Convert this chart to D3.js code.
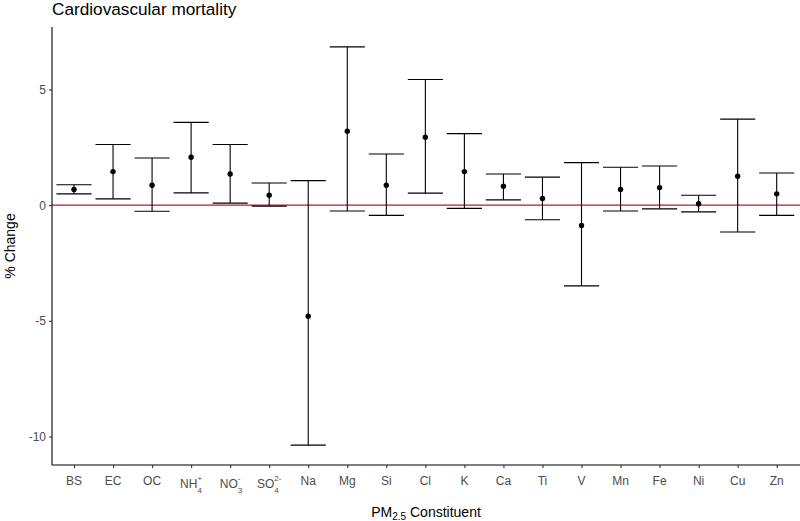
<!DOCTYPE html>
<html><head><meta charset="utf-8">
<script src="https://cdn.jsdelivr.net/npm/d3@7"></script>
<style>body{margin:0;background:#fff}text{font-family:"Liberation Sans",Arial,sans-serif}</style>
</head><body><svg id="c" width="800" height="521"></svg>
<script>
const categories = ["BS","EC","OC","NH4","NO3","SO4","Na","Mg","Si","Cl","K","Ca","Ti","V","Mn","Fe","Ni","Cu","Zn"];
const estimate = [0.68,1.45,0.86,2.07,1.35,0.43,-4.80,3.20,0.86,2.94,1.45,0.82,0.29,-0.88,0.68,0.76,0.06,1.25,0.49];
const lower =    [0.49,0.27,-0.26,0.53,0.09,-0.04,-10.37,-0.25,-0.44,0.52,-0.14,0.23,-0.63,-3.49,-0.25,-0.16,-0.29,-1.16,-0.44];
const upper =    [0.88,2.62,2.04,3.58,2.62,0.96,1.06,6.84,2.21,5.43,3.09,1.35,1.21,1.84,1.64,1.69,0.43,3.72,1.39];
const yTicks = [-10,-5,0,5];
// label parts: [main, subscript, superscript]
const labelParts = {NH4:["NH","4","+"],NO3:["NO","3","-"],SO4:["SO","4","2-"]};

const svg = d3.select("#c");
const L=52, T=27, B=465;
const x = d3.scalePoint().domain(categories).range([74,776.7]).padding(0);
const lo = d3.min(lower), hi = d3.max(upper), ex = (hi-lo)*0.05;
const y = d3.scaleLinear().domain([lo-ex, hi+ex]).range([B,T]);
const step = x.step();
const capW = step*0.9;

// zero line
svg.append("line").attr("x1",L).attr("x2",800).attr("y1",y(0)).attr("y2",y(0))
  .attr("stroke","#B71C1C").attr("stroke-width",1.1);

const data = categories.map((c,i)=>({c,e:estimate[i],l:lower[i],u:upper[i]}));
const g = svg.append("g");
data.forEach(d=>{
  const cx = x(d.c);
  g.append("line").attr("x1",cx).attr("x2",cx).attr("y1",y(d.l)).attr("y2",y(d.u)).attr("stroke","#000").attr("stroke-width",1.1);
  [d.l,d.u].forEach(v=>g.append("line").attr("x1",cx-capW/2).attr("x2",cx+capW/2).attr("y1",y(v)).attr("y2",y(v)).attr("stroke","#000").attr("stroke-width",1.1));
  g.append("circle").attr("cx",cx).attr("cy",y(d.e)).attr("r",2.7).attr("fill","#000");
});

// axes
const yAxis = d3.axisLeft(y).tickValues(yTicks).tickSize(3).tickPadding(3).tickFormat(d=>String(d));
const ya = svg.append("g").attr("transform",`translate(${L},0)`).call(yAxis);
ya.select(".domain").attr("d",`M0,${T}V${B}`).attr("stroke","#000").attr("stroke-width",1.1);
ya.selectAll(".tick line").attr("stroke","#333").attr("stroke-width",1.1);
ya.selectAll(".tick text").attr("fill","#4D4D4D").attr("font-size",12).attr("font-family","Liberation Sans, Arial, sans-serif");

const xAxis = d3.axisBottom(x).tickSize(3).tickPadding(3).tickFormat(()=> "");
const xa = svg.append("g").attr("transform",`translate(0,${B})`).call(xAxis);
xa.select(".domain").attr("d",`M${L},0H800`).attr("stroke","#000").attr("stroke-width",1.1);
xa.selectAll(".tick line").attr("stroke","#333").attr("stroke-width",1.1);
xa.selectAll(".tick text").remove();
categories.forEach(c=>{
  const t = svg.append("text").attr("x",x(c)).attr("y",485).attr("text-anchor","middle")
    .attr("fill","#4D4D4D").attr("font-size",12);
  if(labelParts[c]){
    const [m,sub,sup]=labelParts[c];
    t.attr("y",488).attr("text-anchor","start");
    t.append("tspan").text(m);
    const s1 = t.append("tspan").attr("font-size",8).attr("dy",-7).text(sup);
    const node=t.node();
    const mainW = node.getSubStringLength(0,m.length);
    const supW = s1.node().getComputedTextLength();
    t.selectAll("tspan").remove();
    t.append("tspan").text(m);
    t.append("tspan").attr("font-size",8).attr("dy",-7).text(sup);
    const subT = t.append("tspan").attr("font-size",8).attr("dy",12).text(sub);
    const startX = x(c) - (mainW+supW)/2;
    t.attr("x",startX);
    subT.attr("x",startX+mainW);
  } else {
    t.text(c);
  }
});

// titles
svg.append("text").attr("x",52).attr("y",15).attr("font-size",17.2).attr("fill","#000").text("Cardiovascular mortality");
svg.append("text").attr("transform",`translate(15,${(T+B)/2}) rotate(-90)`).attr("text-anchor","middle")
  .attr("font-size",14).attr("fill","#000").text("% Change");
const xt = svg.append("text").attr("x",(L+800)/2).attr("y",517).attr("text-anchor","middle").attr("font-size",14).attr("fill","#000");
xt.append("tspan").text("PM");
xt.append("tspan").attr("font-size",10).attr("dy",3).text("2.5");
xt.append("tspan").attr("dy",-3).text(" Constituent");
</script></body></html>
